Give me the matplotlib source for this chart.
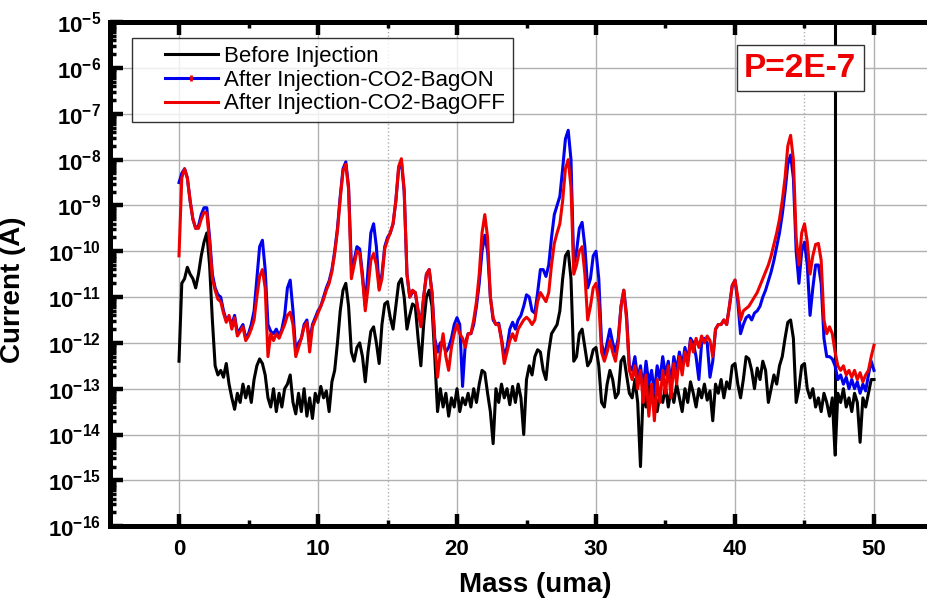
import numpy as np
import matplotlib
matplotlib.use("Agg")
import matplotlib.pyplot as plt
from matplotlib.lines import Line2D
from matplotlib.legend_handler import HandlerLine2D, HandlerTuple
from matplotlib.ticker import LogLocator, MultipleLocator, FuncFormatter, NullFormatter

plt.rcParams["font.family"] = ["Liberation Sans", "DejaVu Sans"]
plt.rcParams["mathtext.fontset"] = "custom"
plt.rcParams["mathtext.rm"] = "Liberation Sans:bold"
plt.rcParams["mathtext.it"] = "Liberation Sans:bold"
plt.rcParams["mathtext.bf"] = "Liberation Sans:bold"

# mass axis, 0.2 uma steps from 0 to 50
mass = np.round(np.arange(0, 50.01, 0.2), 1)

# log10 of current (A), one row per uma
before_log = [
    -12.4, -10.7, -10.6, -10.35, -10.5,
    -10.6, -10.8, -10.5, -10.1, -9.8,
    -9.6, -10.3, -11.5, -12.5, -12.7,
    -12.6, -12.75, -12.45, -12.9, -13.2,
    -13.45, -13.1, -13.3, -12.9, -13.2,
    -12.95, -13.3, -12.8, -12.5, -12.35,
    -12.45, -12.7, -13.2, -13.4, -13.0,
    -13.5, -13.1, -13.4, -13.0, -12.9,
    -12.7, -13.3, -13.55, -13.1, -13.5,
    -13.0, -13.6, -13.2, -13.65, -13.1,
    -13.3, -12.95, -13.2, -13.05, -13.5,
    -12.85, -12.6, -12.0, -11.3, -10.85,
    -10.7, -11.2, -12.2, -12.4, -12.1,
    -12.0, -12.3, -12.85, -12.2, -11.75,
    -11.65, -12.0, -12.45, -11.6, -11.15,
    -11.1, -11.45, -11.7, -11.2, -10.7,
    -10.6, -11.0, -11.7, -11.4, -11.15,
    -11.2, -11.9, -12.5, -11.6, -11.0,
    -10.85, -11.2, -12.3, -13.5, -13.0,
    -13.4, -13.1, -13.6, -13.2, -13.4,
    -13.0, -13.5, -13.2, -13.35, -13.1,
    -13.4, -13.0, -13.3, -12.9, -12.6,
    -12.65, -13.1, -13.5, -14.2, -13.0,
    -13.3, -12.9, -13.2, -13.0, -13.35,
    -12.95, -13.3, -12.9, -13.2, -14.0,
    -12.8, -12.5, -12.7, -12.3, -12.15,
    -12.2, -12.6, -12.8, -12.2, -11.8,
    -11.7, -11.6, -11.3, -10.6, -10.1,
    -10.0, -10.6, -12.4, -12.3, -11.8,
    -11.7, -12.1, -12.5, -12.4, -12.15,
    -12.1, -12.5, -13.3, -13.4, -12.9,
    -12.6, -12.8, -13.2, -13.1, -12.4,
    -12.3, -12.7, -13.1, -13.2, -12.8,
    -13.3, -14.7, -13.0, -13.4, -12.9,
    -13.3, -13.0, -13.5, -13.1, -13.3,
    -12.95, -13.4, -13.0, -13.3, -12.9,
    -13.2, -13.5, -13.0, -13.3, -12.85,
    -13.1, -13.4, -13.0, -13.2, -12.9,
    -13.25, -13.05, -13.7, -12.9, -13.1,
    -12.8, -13.2, -12.85, -13.0, -12.5,
    -12.45, -12.9, -13.2, -12.8, -12.3,
    -12.35, -12.6, -13.0, -12.55, -12.8,
    -12.4, -12.6, -13.3, -13.0, -12.7,
    -12.9, -12.5, -12.3, -11.9, -11.55,
    -11.5, -11.9, -13.3, -13.0, -12.5,
    -12.45, -13.0, -13.2, -13.0, -13.4,
    -13.2, -13.5, -13.1, -13.3, -13.6,
    -13.2, -14.45, -13.1, -13.3, -13.0,
    -13.4, -13.2, -13.5, -13.1, -13.3,
    -14.17, -13.2, -13.4, -13.1, -12.8,
    -12.8,
]

bag_on_log = [
    -8.5, -8.3, -8.2, -8.4, -8.9,
    -9.3, -9.5, -9.45, -9.2, -9.05,
    -9.05, -9.7, -10.5, -10.8, -10.95,
    -11.0, -11.3, -11.5, -11.45, -11.6,
    -11.4, -11.8, -11.7, -11.6, -11.9,
    -11.8, -11.6, -11.3, -10.6, -9.9,
    -9.76, -10.4, -11.6, -11.75, -11.8,
    -11.7, -11.85, -11.7, -11.4, -10.8,
    -10.63, -11.3, -12.2, -12.0, -11.9,
    -11.6, -11.5, -12.0, -11.6, -11.45,
    -11.3, -11.2, -11.0, -10.8, -10.65,
    -10.4, -10.0, -9.5, -8.8, -8.2,
    -8.05, -8.6, -10.3, -10.2, -9.9,
    -9.95, -10.5, -11.2, -10.4, -9.6,
    -9.4, -9.9, -10.8, -10.5, -9.9,
    -9.7, -9.6, -9.4, -8.9, -8.2,
    -8.05, -8.7, -10.5, -11.0, -10.9,
    -10.9, -11.3, -11.6, -11.0, -10.5,
    -10.4, -10.9, -11.9, -12.2, -12.0,
    -12.0, -12.2, -12.1, -11.9, -11.6,
    -11.45, -11.6, -12.95, -12.0, -11.8,
    -11.8, -11.6, -11.2, -10.7, -10.0,
    -9.65, -10.0, -11.0, -11.5, -11.6,
    -11.57, -11.9, -12.3, -12.1, -11.7,
    -11.55, -11.7, -11.5, -11.4, -11.2,
    -10.95, -11.0, -11.3, -11.35, -10.9,
    -10.4, -10.4, -10.55, -10.3, -9.7,
    -9.2, -9.0, -8.8, -8.2, -7.55,
    -7.36, -8.0, -10.3, -10.0, -9.5,
    -9.37, -9.9, -10.8, -10.6, -10.1,
    -10.0, -10.6, -12.0, -12.3, -12.0,
    -11.7, -12.0, -12.2, -11.9, -11.2,
    -10.85, -11.4, -12.5, -12.6, -12.3,
    -12.8, -12.5, -13.0, -12.4, -12.9,
    -12.6, -13.1, -12.5, -12.8, -12.3,
    -12.7, -12.4, -12.9, -12.3, -12.6,
    -12.2, -12.5, -12.1, -12.4, -11.9,
    -12.0, -12.3, -12.8, -12.0, -11.9,
    -12.0, -12.75, -12.4, -11.7, -11.6,
    -11.6, -11.5, -11.6, -11.2, -10.75,
    -10.63, -11.1, -11.8, -11.6, -11.45,
    -11.4, -11.5, -11.35, -11.3, -11.2,
    -11.0, -10.85, -10.65, -10.45, -10.2,
    -9.9, -9.6, -9.2, -8.7, -8.1,
    -7.9, -8.4, -10.0, -10.7, -10.0,
    -9.8, -10.3, -11.4, -10.8, -10.3,
    -10.3, -10.7, -11.9, -12.3, -12.3,
    -12.35, -12.5, -12.8, -12.7, -12.9,
    -12.75, -13.0, -12.8, -13.0, -12.85,
    -13.1, -12.9, -13.05, -12.7, -12.4,
    -12.6,
]

bag_off_log = [
    -10.1, -8.4, -8.2, -8.4, -8.9,
    -9.3, -9.5, -9.5, -9.3, -9.15,
    -9.17, -9.8, -10.6, -10.85, -11.05,
    -11.1, -11.35, -11.55, -11.4, -11.7,
    -11.45, -11.85, -11.75, -11.65, -11.95,
    -11.85, -11.7, -11.5, -11.0, -10.55,
    -10.4, -10.8, -12.3, -11.8, -11.95,
    -11.8, -11.9, -11.75, -11.6, -11.4,
    -11.33, -11.6, -12.3, -12.1, -11.9,
    -11.65, -11.55, -12.2, -11.65, -11.5,
    -11.35, -11.2, -11.05, -10.85, -10.7,
    -10.45, -10.05, -9.55, -8.85, -8.25,
    -8.1, -8.65, -10.6, -10.3, -10.0,
    -10.05, -10.6, -11.3, -10.8, -10.2,
    -10.05, -10.3, -10.85, -10.6, -9.95,
    -9.75, -9.6, -9.4, -8.9, -8.15,
    -7.98, -8.65, -10.5, -11.0, -10.85,
    -10.9, -11.3, -11.65, -11.0, -10.5,
    -10.4, -10.9, -12.0, -12.75, -12.2,
    -11.8, -12.3, -12.6, -12.1, -11.8,
    -11.6, -11.8, -11.9, -12.1, -11.8,
    -11.8, -11.5, -11.1, -10.5, -9.6,
    -9.2, -9.7, -11.0, -11.45, -11.6,
    -11.6, -11.95, -12.45, -12.2, -11.95,
    -11.8, -11.95, -11.7, -11.6, -11.5,
    -11.44, -11.5, -11.6, -11.5, -11.1,
    -10.9, -11.0, -11.1, -10.9, -10.3,
    -9.83, -9.6, -9.4, -8.9, -8.2,
    -8.0, -8.6, -10.5, -10.3, -10.0,
    -9.9, -10.5, -11.5, -11.2, -10.8,
    -10.7, -11.1, -12.2, -12.4, -12.2,
    -11.95, -12.2, -12.4, -12.0, -11.2,
    -10.85, -11.5, -12.6, -12.8, -12.5,
    -13.0, -12.6, -13.3, -12.7, -13.6,
    -12.9, -13.7, -12.8, -13.3, -12.6,
    -13.1, -12.5, -13.2, -12.45, -12.9,
    -12.3, -12.7, -12.2, -12.5, -11.95,
    -12.2, -11.9, -12.1, -11.85, -12.0,
    -11.85, -11.95, -12.3, -11.7, -11.6,
    -11.6, -11.5, -11.6, -11.2, -10.75,
    -10.63, -11.0, -11.5, -11.3, -11.25,
    -11.2, -11.1, -11.0, -10.9, -10.75,
    -10.6, -10.45, -10.3, -10.1, -9.85,
    -9.6, -9.3, -8.9, -8.4, -7.7,
    -7.47, -8.0, -9.7, -10.3, -9.6,
    -9.4, -9.8, -10.5, -10.1, -9.85,
    -9.83, -10.2, -11.5, -11.8, -11.65,
    -11.8, -12.2, -12.5, -12.6, -12.5,
    -12.7, -12.6, -12.75, -12.6, -12.8,
    -12.65, -12.85, -12.7, -12.6, -12.3,
    -12.05,
]

# the single off-scale spike in the "before" trace
spike_mass = 47.2
spike_low = -14.45
spike_high = -3.0

labels = ["Before Injection", "After Injection-CO2-BagON", "After Injection-CO2-BagOFF"]
colors = ["black", "#0000ee", "#ee0000"]
dotted_lines = [15, 45]
pressure_note = "P=2E-7"


class ShiftedLineHandler(HandlerLine2D):
    # legend line drawn only in the right part of the handle box (blank gap on the left)
    def create_artists(self, legend, orig_handle, xdescent, ydescent, width, height,
                       fontsize, trans):
        shift = 1.15 * fontsize
        return super().create_artists(legend, orig_handle, xdescent - shift, ydescent,
                                      width - shift, height, fontsize, trans)


fig = plt.figure(figsize=(9.28, 6.02), dpi=100)
ax = fig.add_axes([0.118, 0.126, 0.8987, 0.8372])

ax.grid(which="major", color="#b0b0b0", lw=1.0, zorder=0)
for xv in dotted_lines:
    ax.axvline(xv, color="#b0b0b0", ls=":", lw=1.0, zorder=0)

l_before, = ax.plot(mass, 10 ** np.array(before_log), color=colors[0], lw=2.2, zorder=3)
ax.vlines(spike_mass, 10 ** spike_low, 10 ** spike_high, color=colors[0], lw=2.2, zorder=3)
l_on, = ax.plot(mass, 10 ** np.array(bag_on_log), color=colors[1], lw=2.2, zorder=4)
l_off, = ax.plot(mass, 10 ** np.array(bag_off_log), color=colors[2], lw=2.2, zorder=5)

ax.set_yscale("log")
ax.set_xlim(-5, 55)
ax.set_ylim(1e-16, 1e-5)

ax.xaxis.set_major_locator(MultipleLocator(10))
ax.xaxis.set_minor_locator(MultipleLocator(5))
ax.yaxis.set_major_locator(LogLocator(base=10, numticks=30))
ax.yaxis.set_minor_locator(LogLocator(base=10, subs=np.arange(2, 10), numticks=30))
ax.yaxis.set_minor_formatter(NullFormatter())
ax.yaxis.set_major_formatter(FuncFormatter(lambda v, p: r"$10^{%d}$" % round(np.log10(v))))
ax.xaxis.set_major_formatter(FuncFormatter(lambda v, p: "%d" % v))

ax.tick_params(which="major", direction="in", length=9, width=3.2, top=True, right=False,
               labelsize=16)
ax.tick_params(which="minor", direction="in", length=4.5, width=2.5, top=True, right=False)
ax.tick_params(axis="x", pad=9)
ax.tick_params(axis="y", pad=6)
for lab in ax.get_xticklabels():
    lab.set_fontweight("bold")

for side in ["left", "bottom", "top"]:
    ax.spines[side].set_linewidth(3.6)
ax.spines["right"].set_visible(False)

ax.set_xlabel("Mass (uma)", fontsize=20, fontweight="bold", labelpad=6)
ax.set_ylabel("Current (A)", fontsize=20, fontweight="bold")
ax.yaxis.set_label_coords(-0.1, 0.47)
ax.xaxis.set_label_coords(0.51, -0.09)

# small red mark in the middle of the BagON legend line, as in the original
on_mark = Line2D([], [], color=colors[2], marker="|", ls="none", ms=4, mew=2)
leg = ax.legend([l_before, (l_on, on_mark), l_off], labels, loc="upper left",
                bbox_to_anchor=(0.027, 0.968), borderaxespad=0, fontsize=16,
                frameon=True, fancybox=False, handlelength=3.5, handletextpad=0.3,
                labelspacing=0.12, borderpad=0.35,
                handler_map={Line2D: ShiftedLineHandler(), tuple: HandlerTuple(ndivide=1)})
leg.get_frame().set_edgecolor("black")
leg.get_frame().set_linewidth(1.0)
leg.set_zorder(10)

ax.text(0.828, 0.909, pressure_note, transform=ax.transAxes, ha="center", va="center",
        fontsize=24, fontweight="bold", color="#ee0000", zorder=10,
        bbox=dict(boxstyle="square,pad=0.22", fc="white", ec="#333333", lw=1.0))

fig.savefig("out.png", dpi=100)
